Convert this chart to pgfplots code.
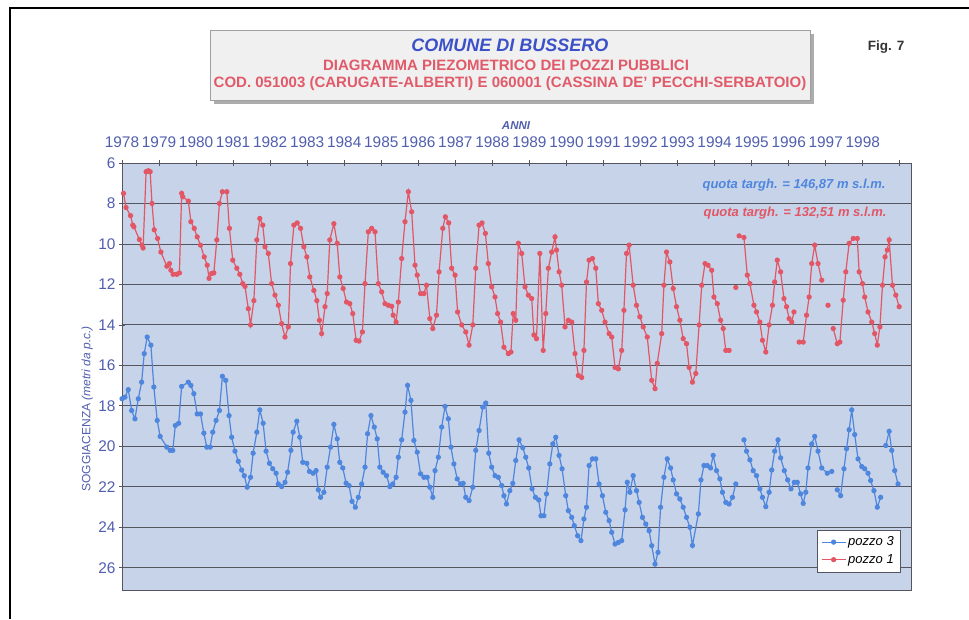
\documentclass[border=0pt]{standalone}
\usepackage{pgfplots}
\usepackage{pgfplotstable}
\pgfplotsset{compat=1.18}
\usepackage{fontspec}
\setmainfont{Liberation Sans}
\definecolor{bluser}{RGB}{79,134,222}
\definecolor{redser}{RGB}{226,86,102}
\definecolor{ticklab}{RGB}{80,95,175}
\definecolor{titblue}{RGB}{60,80,200}
\definecolor{titred}{RGB}{225,90,105}
\definecolor{plotbg}{RGB}{198,211,232}
\definecolor{gridc}{RGB}{85,85,95}

\pgfplotstableread{
x y
1978.04 7.50
1978.11 8.20
1978.23 8.60
1978.29 9.07
1978.32 9.15
1978.47 9.78
1978.54 10.06
1978.57 10.20
1978.65 6.43
1978.71 6.38
1978.76 6.43
1978.81 8.00
1978.87 9.30
1978.96 9.73
1979.05 10.40
1979.21 11.10
1979.28 10.97
1979.32 11.30
1979.38 11.50
1979.48 11.50
1979.55 11.43
1979.61 7.50
1979.64 7.67
1979.79 7.88
1979.86 8.90
1979.95 9.23
1980.03 9.65
1980.12 10.06
1980.22 10.64
1980.30 11.05
1980.35 11.70
1980.42 11.46
1980.48 11.43
1980.56 9.80
1980.63 8.00
1980.71 7.42
1980.83 7.42
1980.90 9.23
1980.99 10.80
1981.10 11.20
1981.18 11.50
1981.26 11.96
1981.32 12.10
1981.41 13.20
1981.47 14.00
1981.56 12.80
1981.64 9.80
1981.72 8.74
1981.80 9.07
1981.86 10.14
1981.95 10.47
1982.04 11.96
1982.13 12.53
1982.22 13.03
1982.31 13.94
1982.40 14.60
1982.49 14.10
1982.55 10.97
1982.64 9.07
1982.73 8.96
1982.82 9.23
1982.91 10.14
1982.99 10.64
1983.07 11.63
1983.18 12.30
1983.26 12.80
1983.33 13.77
1983.39 14.43
1983.48 13.10
1983.54 12.45
1983.61 9.80
1983.72 9.00
1983.81 9.97
1983.88 11.63
1983.97 12.20
1984.06 12.87
1984.15 12.95
1984.23 13.44
1984.32 14.76
1984.40 14.80
1984.49 14.35
1984.56 11.96
1984.65 9.40
1984.74 9.23
1984.83 9.40
1984.92 11.96
1985.01 12.37
1985.10 12.95
1985.19 13.03
1985.28 13.08
1985.32 13.52
1985.40 13.86
1985.46 12.87
1985.55 10.72
1985.64 8.90
1985.73 7.42
1985.82 8.41
1985.91 11.05
1985.97 11.54
1986.06 12.45
1986.15 12.45
1986.22 12.04
1986.31 13.69
1986.39 14.18
1986.49 13.52
1986.56 11.38
1986.66 9.23
1986.73 8.66
1986.82 8.96
1986.90 11.20
1986.99 11.54
1987.06 13.36
1987.17 14.00
1987.28 14.35
1987.37 15.00
1987.47 14.00
1987.55 11.20
1987.64 9.07
1987.72 8.96
1987.81 9.48
1987.89 10.97
1987.98 12.12
1988.07 12.62
1988.14 13.44
1988.22 13.86
1988.31 15.10
1988.43 15.42
1988.50 15.34
1988.56 13.44
1988.63 13.77
1988.70 9.97
1988.79 10.47
1988.88 12.12
1988.97 12.53
1989.06 12.70
1989.12 14.50
1989.19 14.68
1989.28 10.47
1989.37 15.26
1989.44 13.44
1989.51 11.20
1989.60 10.40
1989.69 9.65
1989.73 10.30
1989.80 11.38
1989.87 12.04
1989.96 14.10
1990.05 13.77
1990.14 13.86
1990.23 15.42
1990.32 16.50
1990.41 16.60
1990.47 15.26
1990.54 11.88
1990.61 10.80
1990.70 10.72
1990.79 11.20
1990.86 12.95
1990.95 13.28
1991.04 13.86
1991.15 14.43
1991.22 14.60
1991.31 16.10
1991.40 16.17
1991.49 15.26
1991.55 13.28
1991.62 10.47
1991.69 10.06
1991.80 12.04
1991.89 13.03
1991.98 13.60
1992.07 14.10
1992.18 14.60
1992.30 16.74
1992.39 17.15
1992.45 15.90
1992.57 14.43
1992.63 12.04
1992.70 10.40
1992.79 10.89
1992.88 12.20
1992.97 13.10
1993.06 13.77
1993.15 14.68
1993.24 14.93
1993.31 16.10
1993.40 16.83
1993.49 16.40
1993.58 14.00
1993.65 12.04
1993.74 10.97
1993.82 11.05
1993.92 11.30
1993.98 12.62
1994.07 12.95
1994.16 13.77
1994.23 14.18
1994.30 15.26
1994.39 15.26
nan nan
1994.57 12.15
nan nan
1994.66 9.60
1994.79 9.68
1994.88 11.54
1994.95 11.96
1995.06 13.03
1995.13 13.36
1995.22 13.86
1995.29 14.76
1995.38 15.34
1995.47 14.00
1995.56 13.03
1995.62 11.88
1995.69 10.80
1995.78 11.38
1995.87 12.70
1995.94 13.10
1996.01 13.69
1996.08 13.86
1996.14 13.36
nan nan
1996.28 14.85
1996.39 14.85
1996.48 13.52
1996.55 12.62
1996.62 10.97
1996.70 10.06
1996.79 10.97
1996.89 11.79
nan nan
1997.06 13.03
nan nan
1997.20 14.18
1997.31 14.93
1997.38 14.85
1997.47 12.78
1997.54 11.38
1997.63 9.97
1997.74 9.73
1997.85 9.73
1997.90 11.38
1997.99 11.96
1998.05 12.62
1998.14 13.36
1998.24 13.86
1998.32 14.43
1998.39 15.00
1998.46 14.10
1998.53 12.04
1998.60 10.64
1998.66 10.30
1998.71 9.80
1998.80 12.04
1998.89 12.53
1998.98 13.10
}\redtab

\pgfplotstableread{
x y
1978.00 17.65
1978.08 17.57
1978.17 17.20
1978.26 18.23
1978.35 18.64
1978.44 17.65
1978.53 16.83
1978.60 15.42
1978.68 14.60
1978.78 15.00
1978.86 17.07
1978.95 18.72
1979.03 19.51
1979.21 20.04
1979.30 20.20
1979.37 20.20
1979.44 18.97
1979.53 18.86
1979.61 17.04
1979.79 16.83
1979.86 16.99
1979.94 17.40
1980.03 18.40
1980.12 18.40
1980.21 19.35
1980.29 20.04
1980.38 20.04
1980.45 19.30
1980.54 18.72
1980.63 18.23
1980.71 16.54
1980.80 16.74
1980.89 18.48
1980.96 19.55
1981.05 20.24
1981.14 20.74
1981.23 21.17
1981.30 21.45
1981.38 22.02
1981.47 21.53
1981.54 20.34
1981.64 19.30
1981.72 18.20
1981.81 18.86
1981.89 20.24
1981.98 20.84
1982.07 21.11
1982.16 21.33
1982.22 21.86
1982.31 21.99
1982.40 21.78
1982.47 21.28
1982.56 20.20
1982.62 19.30
1982.72 18.76
1982.80 19.55
1982.88 20.79
1982.99 20.84
1983.06 21.24
1983.16 21.33
1983.24 21.20
1983.30 22.15
1983.36 22.52
1983.45 22.27
1983.54 21.03
1983.63 20.04
1983.72 18.92
1983.81 19.63
1983.88 20.79
1983.96 21.07
1984.05 21.82
1984.13 21.94
1984.21 22.72
1984.30 23.01
1984.38 22.52
1984.47 21.86
1984.56 21.03
1984.63 19.38
1984.72 18.48
1984.81 19.05
1984.89 19.63
1984.96 21.03
1985.05 21.28
1985.14 21.45
1985.23 21.99
1985.31 21.86
1985.40 21.53
1985.46 20.54
1985.55 19.68
1985.64 18.31
1985.71 16.99
1985.80 17.73
1985.88 19.71
1985.97 20.29
1986.06 21.36
1986.15 21.53
1986.24 21.53
1986.31 22.02
1986.39 22.52
1986.45 21.20
1986.54 20.54
1986.63 19.05
1986.72 18.03
1986.81 18.64
1986.88 20.04
1986.96 20.87
1987.05 21.61
1987.14 21.86
1987.21 21.83
1987.28 22.52
1987.37 22.68
1987.47 22.02
1987.55 20.20
1987.64 19.22
1987.74 18.06
1987.82 17.86
1987.90 20.34
1987.98 21.03
1988.07 21.45
1988.16 21.53
1988.25 21.94
1988.31 22.44
1988.38 22.85
1988.47 22.19
1988.55 21.83
1988.63 20.70
1988.72 19.68
1988.82 20.07
1988.90 20.54
1988.98 21.07
1989.07 22.10
1989.16 22.52
1989.25 22.65
1989.31 23.43
1989.39 23.43
1989.46 22.35
1989.55 20.87
1989.63 19.88
1989.71 19.55
1989.80 20.45
1989.88 21.11
1989.98 22.44
1990.05 23.18
1990.14 23.51
1990.21 23.92
1990.30 24.42
1990.39 24.66
1990.47 23.59
1990.54 23.01
1990.61 20.95
1990.70 20.62
1990.79 20.62
1990.88 21.86
1990.97 22.44
1991.06 23.26
1991.15 23.67
1991.22 24.25
1991.31 24.83
1991.40 24.75
1991.49 24.66
1991.58 23.14
1991.64 21.78
1991.71 22.27
1991.80 21.45
1991.89 22.19
1991.96 22.77
1992.05 23.51
1992.14 23.84
1992.23 24.17
1992.30 24.91
1992.39 25.82
1992.47 25.24
1992.54 23.01
1992.63 21.53
1992.72 20.62
1992.81 21.07
1992.88 21.66
1992.97 22.35
1993.06 22.60
1993.15 23.01
1993.24 23.51
1993.33 24.00
1993.40 24.90
1993.56 23.34
1993.63 21.66
1993.71 20.95
1993.80 20.95
1993.89 21.07
1993.96 20.45
1994.05 21.20
1994.14 21.61
1994.21 22.27
1994.30 22.77
1994.39 22.85
1994.48 22.52
1994.57 21.86
nan nan
1994.79 19.68
1994.86 20.24
1994.95 20.67
1995.04 21.20
1995.13 21.45
1995.22 22.10
1995.29 22.52
1995.38 22.98
1995.47 22.27
1995.54 21.17
1995.62 20.24
1995.71 19.68
1995.78 20.57
1995.88 21.20
1995.97 21.66
1996.06 22.10
1996.15 21.78
1996.23 21.78
1996.32 22.35
1996.39 22.82
1996.46 22.27
1996.52 21.07
1996.62 19.88
1996.70 19.51
1996.79 20.24
1996.89 21.07
1997.04 21.33
1997.16 21.24
nan nan
1997.31 22.15
1997.40 22.44
1997.49 21.11
1997.56 20.12
1997.63 19.18
1997.70 18.20
1997.78 19.42
1997.87 20.62
1997.97 21.00
1998.05 21.11
1998.14 21.33
1998.21 21.69
1998.30 22.19
1998.39 23.01
1998.48 22.52
nan nan
1998.62 19.96
1998.71 19.26
1998.78 20.20
1998.86 21.20
1998.95 21.86
}\bluetab

\begin{document}
\begin{tikzpicture}[x=1pt,y=1pt]
\useasboundingbox (-122,-29) rectangle (847,590);
\fill[white] (-122,-29) rectangle (847,590);
\draw[black, line width=1.6pt] (-112,-29) -- (-112,582) -- (847,582);
% title box
\fill[gray!65] (92,486) rectangle (692,556);
\fill[gray!12] (88,490) rectangle (688,560);
\draw[gray!75, line width=0.8pt] (88,490) rectangle (688,560);
\node[font=\fontsize{18}{20}\selectfont\bfseries\itshape, text=titblue] at (388,545) {COMUNE DI BUSSERO};
\node[font=\fontsize{15}{17}\selectfont\bfseries, text=titred] at (384,525) {DIAGRAMMA PIEZOMETRICO DEI POZZI PUBBLICI};
\node[font=\fontsize{15}{17}\selectfont\bfseries, text=titred] at (388,506) {COD. 051003 (CARUGATE-ALBERTI) E 060001 (CASSINA DE' PECCHI-SERBATOIO)};
\node[font=\fontsize{13.5}{15}\selectfont\bfseries, text=black!80] at (764,543) {Fig. 7};
\node[font=\fontsize{11.5}{13}\selectfont\bfseries\itshape, text=ticklab] at (394,464) {ANNI};

\begin{axis}[
  at={(0,0)}, anchor=south west,
  scale only axis, width=789pt, height=427pt,
  xmin=1978, xmax=1999.3,
  ymin=6, ymax=27.1, y dir=reverse,
  axis background/.style={fill=plotbg},
  axis line style={gridc, line width=0.9pt},
  xtick={1978,1979,...,1999},
  xticklabels={1978,1979,1980,1981,1982,1983,1984,1985,1986,1987,1988,1989,1990,1991,1992,1993,1994,1995,1996,1997,1998,{}},
  xtick pos=right, xticklabel pos=right,
  ytick={6,8,...,26}, ytick pos=left,
  ymajorgrids, grid style={gridc, line width=0.9pt},
  major tick length=6pt, tick align=center,
  tick style={gridc, line width=0.8pt},
  ticklabel style={font=\fontsize{15.4}{17}\selectfont, text=ticklab},
  /pgf/number format/assume math mode=true,
  xticklabel style={yshift=8.5pt},
  ylabel={SOGGIACENZA \textit{(metri da p.c.)}},
  ylabel style={font=\fontsize{12}{14}\selectfont, text=ticklab,
    at={(axis description cs:-0.044,0.424)}, anchor=center},
  unbounded coords=jump,
  legend style={at={(0.986,0.042)}, anchor=south east, draw=gridc, fill=white,
    font=\fontsize{13}{15}\selectfont\itshape, inner xsep=4pt, inner ysep=5pt, row sep=3pt},
  legend cell align=left,
  legend image code/.code={\draw[mark repeat=2,mark phase=2,#1] plot coordinates {(0pt,0pt) (12pt,0pt) (24pt,0pt)};},
]
\addplot[bluser, line width=1.2pt, mark=*, mark size=2pt, mark options={fill=bluser, draw=bluser}] table[x=x,y=y] {\bluetab};
\addlegendentry{pozzo 3}
\addplot[redser, line width=1.2pt, mark=*, mark size=2pt, mark options={fill=redser, draw=redser}] table[x=x,y=y] {\redtab};
\addlegendentry{pozzo 1}
\end{axis}
\node[anchor=east, font=\fontsize{13}{15}\selectfont\bfseries\itshape, text=bluser] at (767,405) {quota targh. = 146,87 m s.l.m.};
\node[anchor=east, font=\fontsize{13}{15}\selectfont\bfseries\itshape, text=redser] at (768,377) {quota targh. = 132,51 m s.l.m.};
\end{tikzpicture}
\end{document}
